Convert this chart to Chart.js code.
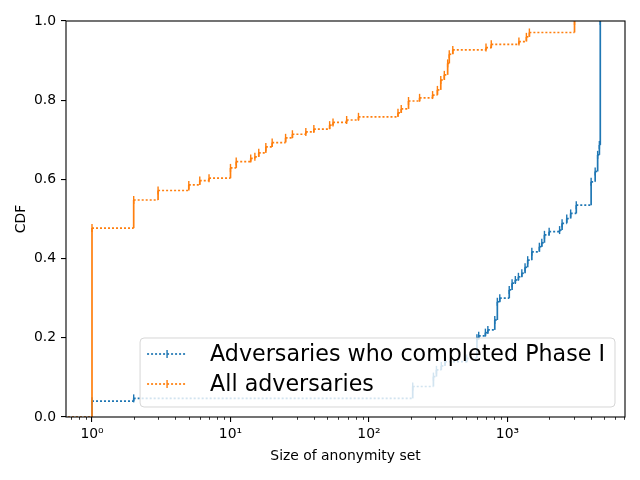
<!DOCTYPE html>
<html>
<head>
<meta charset="utf-8">
<script src="https://cdn.jsdelivr.net/npm/chart.js@4.4.1/dist/chart.umd.min.js"></script>
<style>
  html, body { margin: 0; padding: 0; background: #fff; }
  canvas { display: block; }
</style>
</head>
<body>
<canvas id="grafico" width="640" height="480"></canvas>
<script>
// valores (tamanho do conjunto de anonimato -> CDF)
const faseX = [0.67, 1, 2, 207, 292, 307, 333, 354, 508, 602, 620, 693, 722, 810, 845, 880, 1030, 1080,
  1140, 1200, 1270, 1340, 1400, 1500, 1700, 1770, 1850, 2000, 2380, 2480, 2680, 2860, 3140, 4020, 4300,
  4480, 4610, 4680];
const faseY = [0, 0.04, 0.047, 0.077, 0.102, 0.119, 0.129, 0.14, 0.148, 0.199, 0.205, 0.213, 0.22, 0.245,
  0.291, 0.30, 0.321, 0.338, 0.346, 0.354, 0.363, 0.378, 0.396, 0.417, 0.43, 0.44, 0.46, 0.468, 0.472,
  0.489, 0.501, 0.514, 0.535, 0.594, 0.62, 0.662, 0.687, 1.0];

const todosX = [0.67, 1, 2, 3, 5, 6, 7, 10, 11, 14, 15, 16, 18, 20, 25, 28, 35, 40, 52, 55, 69, 84, 162,
  171, 193, 232, 288, 312, 330, 350, 370, 380, 403, 700, 764, 1210, 1370, 1440, 3050];
const todosY = [0, 0.477, 0.548, 0.572, 0.586, 0.597, 0.603, 0.629, 0.645, 0.653, 0.657, 0.667, 0.682,
  0.693, 0.705, 0.714, 0.72, 0.727, 0.737, 0.744, 0.75, 0.758, 0.768, 0.778, 0.798, 0.806, 0.813, 0.826,
  0.851, 0.864, 0.893, 0.916, 0.927, 0.933, 0.941, 0.948, 0.96, 0.971, 1.0];

const nomes = ['Adversaries who completed Phase I', 'All adversaries'];
const cores = ['#1f77b4', '#ff7f0e'];
const rotulosDecada = { 0: '10\u2070', 1: '10\u00b9', 2: '10\u00b2', 3: '10\u00b3' };
const yTicks = [0, 0.2, 0.4, 0.6, 0.8, 1.0];

const FONTE = '"DejaVu Sans", sans-serif';
const PONTILHADO = [2, 2];

// monta os degraus (steps-post): cada ponto ganha um canto antes dele
function degraus(xs, ys) {
  const pts = [];
  for (let i = 0; i < xs.length; i++) {
    if (i > 0) pts.push({ x: xs[i], y: ys[i - 1] });
    pts.push({ x: xs[i], y: ys[i] });
  }
  return pts;
}

function serie(label, xs, ys, cor, ordem) {
  return {
    label: label,
    data: degraus(xs, ys),
    borderColor: cor,
    backgroundColor: cor,
    borderWidth: 1.7,
    fill: false,
    tension: 0,
    order: ordem,
    pointStyle: 'line',
    rotation: 90,
    pointBorderColor: cor,
    pointBorderWidth: 1.4,
    pointRadius: (c) => (c.index > 0 && c.index % 2 === 0) ? 4 : 0,
    pointHoverRadius: 0,
    segment: {
      borderDash: (c) => c.p0.parsed.x === c.p1.parsed.x ? [] : PONTILHADO
    }
  };
}

// moldura + ticks menores + legenda dentro do grafico
const extras = {
  id: 'extras',
  afterDatasetsDraw(chart) {
    const g = chart.ctx;
    const a = chart.chartArea;
    const sx = chart.scales.x;

    g.save();
    // ticks menores do eixo log
    g.strokeStyle = '#000';
    g.lineWidth = 0.8;
    sx.ticks.forEach((t) => {
      if (t.major) return;
      const px = Math.round(sx.getPixelForValue(t.value)) + 0.5;
      g.beginPath();
      g.moveTo(px, a.bottom);
      g.lineTo(px, a.bottom + 2.8);
      g.stroke();
    });

    // moldura
    g.lineWidth = 1.1;
    g.strokeRect(a.left, a.top, a.right - a.left, a.bottom - a.top);

    // legenda
    g.font = '22.2px ' + FONTE;
    const larguraTexto = Math.max(...nomes.map((n) => g.measureText(n).width));
    const direita = a.right - 10;
    const baixo = a.bottom - 10;
    const largura = 70 + larguraTexto + 10;
    const altura = 69;
    const esquerda = direita - largura;
    const topo = baixo - altura;

    g.beginPath();
    g.roundRect(esquerda, topo, largura, altura, 4);
    g.fillStyle = 'rgba(255,255,255,0.8)';
    g.fill();
    g.strokeStyle = 'rgba(204,204,204,0.8)';
    g.lineWidth = 1;
    g.stroke();

    nomes.forEach((nome, i) => {
      const cy = topo + 16 + i * 30;
      g.strokeStyle = cores[i];
      g.lineWidth = 1.7;
      g.setLineDash(PONTILHADO);
      g.beginPath();
      g.moveTo(esquerda + 7, cy);
      g.lineTo(esquerda + 47, cy);
      g.stroke();
      g.setLineDash([]);
      g.lineWidth = 1.4;
      g.beginPath();
      g.moveTo(esquerda + 27, cy - 4);
      g.lineTo(esquerda + 27, cy + 4);
      g.stroke();

      g.fillStyle = '#000';
      g.textAlign = 'left';
      g.textBaseline = 'middle';
      g.fillText(nome, esquerda + 70, cy + 1);
    });
    g.restore();
  }
};

const ctx = document.getElementById('grafico');
new Chart(ctx, {
  type: 'line',
  data: {
    datasets: [
      serie(nomes[0], faseX, faseY, cores[0], 1),
      serie(nomes[1], todosX, todosY, cores[1], 0)
    ]
  },
  options: {
    responsive: false,
    animation: false,
    devicePixelRatio: 1,
    layout: { padding: { top: 21, right: 15, left: 0, bottom: 0 } },
    plugins: {
      legend: { display: false },
      tooltip: { enabled: false }
    },
    scales: {
      x: {
        type: 'logarithmic',
        bounds: 'data',
        min: 0.649,
        max: 7060,
        afterBuildTicks: (s) => {
          const lista = [];
          for (let e = -1; e <= 3; e++) {
            for (let m = 1; m <= 9; m++) {
              const v = m * Math.pow(10, e);
              if (v >= s.min && v <= s.max) lista.push({ value: v, major: m === 1, exp: e });
            }
          }
          s.ticks = lista;
        },
        afterFit: (s) => { s.height = 63; },
        border: { display: false },
        grid: {
          drawOnChartArea: false,
          drawTicks: true,
          tickLength: 5,
          lineWidth: 1.1,
          tickColor: (c) => (c.tick && c.tick.major) ? '#000' : 'rgba(0,0,0,0)'
        },
        ticks: {
          autoSkip: false,
          maxRotation: 0,
          padding: 4,
          color: '#000',
          font: { family: FONTE, size: 13.9 },
          callback: function (v, i, ticks) {
            const t = ticks[i];
            return t.major ? rotulosDecada[t.exp] : '';
          }
        },
        title: {
          display: true,
          text: 'Size of anonymity set',
          color: '#000',
          font: { family: FONTE, size: 13.9 },
          padding: { top: 0, bottom: 15 }
        }
      },
      y: {
        min: 0,
        max: 1,
        afterBuildTicks: (s) => { s.ticks = yTicks.map((v) => ({ value: v })); },
        afterFit: (s) => { s.width = 66; },
        border: { display: false },
        grid: {
          drawOnChartArea: false,
          drawTicks: true,
          tickLength: 5,
          lineWidth: 1.1,
          tickColor: '#000'
        },
        ticks: {
          padding: 5,
          color: '#000',
          font: { family: FONTE, size: 13.9 },
          callback: (v) => Number(v).toFixed(1)
        },
        title: {
          display: true,
          text: 'CDF',
          color: '#000',
          font: { family: FONTE, size: 13.9 },
          padding: { top: 13, bottom: 0 }
        }
      }
    }
  },
  plugins: [extras]
});
</script>
</body>
</html>
